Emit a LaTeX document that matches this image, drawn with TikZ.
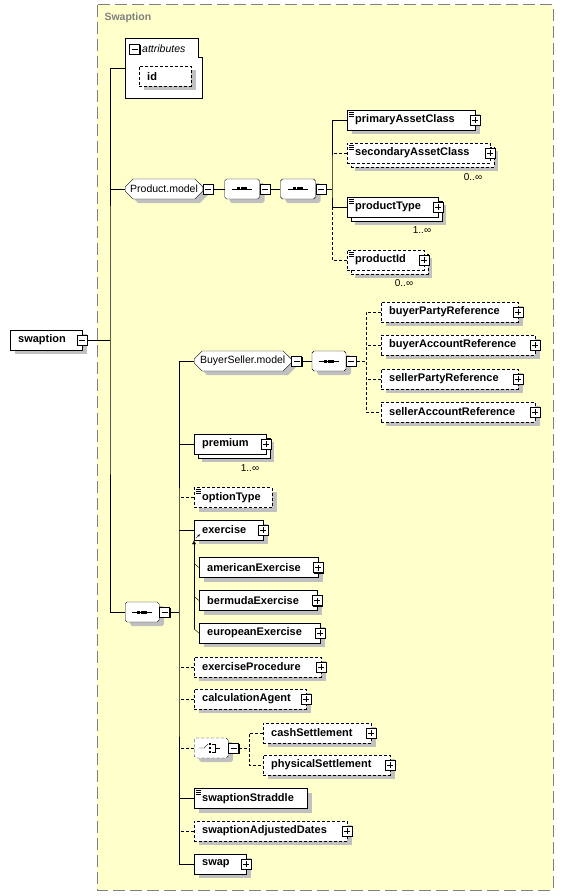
\documentclass[tikz,border=0pt]{standalone}
\usepackage{fontspec}
\setmainfont{Liberation Sans}
\usepackage{tikz}
\usetikzlibrary{positioning,shapes.misc,shadows,arrows.meta}
\definecolor{bgyellow}{RGB}{255,255,204}
\definecolor{shade}{RGB}{192,192,192}
\definecolor{framegray}{RGB}{128,128,128}
\tikzset{frame/.style={draw=framegray,fill=bgyellow,line width=1pt,dash pattern=on 12pt off 5pt}}
\tikzset{frametitle/.style={anchor=west,text=framegray,font=\bfseries\fontsize{10.5}{12}\selectfont}}
\tikzset{opt/.style={dash pattern=on 3pt off 2pt}}
\tikzset{shd/.style={drop shadow={shadow xshift=5pt,shadow yshift=-4pt,fill=shade,opacity=1}}}
\tikzset{multi/.style={drop shadow={shadow xshift=8pt,shadow yshift=-8pt,fill=shade,opacity=1},copy shadow={shadow xshift=4pt,shadow yshift=-4pt}}}
\tikzset{elem/.style={draw,fill=white,anchor=west,minimum height=20pt,inner xsep=8pt,inner ysep=0pt,align=left,font=\bfseries\fontsize{11}{13}\selectfont}}
\tikzset{modelgroup/.style={chamfered rectangle,chamfered rectangle xsep=4pt,chamfered rectangle ysep=4pt,draw,fill=white,anchor=west,minimum height=20pt,inner sep=1pt,font=\fontsize{10.5}{12}\selectfont,shd}}
\tikzset{occurs/.style={font=\fontsize{10}{12}\selectfont}}
\tikzset{signbox/.style={draw,fill=white,minimum size=10pt,inner sep=0pt,drop shadow={shadow xshift=1pt,shadow yshift=-1pt,fill=black,opacity=1}}}
\tikzset{minusbox/.style={signbox,path picture={\draw ([xshift=-3pt]path picture bounding box.center) -- ([xshift=3pt]path picture bounding box.center);}}}
\tikzset{plusbox/.style={signbox,path picture={\draw ([xshift=-3pt]path picture bounding box.center) -- ([xshift=3pt]path picture bounding box.center) ([yshift=-3pt]path picture bounding box.center) -- ([yshift=3pt]path picture bounding box.center);}}}
\tikzset{doc/.style={path picture={
	\foreach \d in {2,4,6}
		\draw[solid,line width=0.6pt] ([shift={(2pt,-\d pt)}]path picture bounding box.north west) -- ++(5pt,0);}}}
\tikzset{seqicon/.style={path picture={
	\draw[solid,line width=0.8pt] ([xshift=-10pt]path picture bounding box.center) -- ([xshift=10pt]path picture bounding box.center);
	\foreach \d in {-3.6,0,3.6}
		\fill[black] ([xshift=\d pt]path picture bounding box.center) +(-1.5pt,-1.5pt) rectangle +(1.5pt,1.5pt);}}}
\tikzset{choiceicon/.style={path picture={
	\begin{scope}[shift={(path picture bounding box.center)},x=1pt,y=1pt]
	\draw[solid] (-12,0) -- (-7,0) -- (-3,4);
	\foreach \d in {-4,0,4}
		\fill[black] (-1,\d) +(-1.2,-1.2) rectangle +(1.2,1.2);
	\draw[solid] (1,4) -- (4,4) -- (4,-4) -- (1,-4) (4,0) -- (9,0);
	\end{scope}}}}

\begin{document}
\begin{tikzpicture}[x=1pt,y=-1pt]
	\useasboundingbox (0,0) rectangle (563,896);

	%% Swaption frame
	\draw[frame] (97,5) rectangle (553,890);
	\node[frametitle] (ttl) at (101,18) {Swaption};

	%% root
	\node[elem,shd,text width=56pt] (sw) at (10,340) {swaption};
	\node[minusbox] (swmin) at (sw.east) {};

	%% attributes
	\draw[fill=white] (125,38) -- (198,38) -- (198,57) -- (202,57) -- (202,98) -- (125,98) -- cycle;
	\coordinate (attr) at (125,68);
	\node[minusbox] (attrmin) at (134.5,49) {};
	\node[anchor=west,inner sep=0pt,font=\itshape\fontsize{10.5}{12}\selectfont] (attrlbl) at (142,49) {attributes};
	\node[elem,shd,opt,text width=36pt] (id) at (139,76.5) {id};

	%% Product.model
	\node[modelgroup,minimum width=77pt] (pm) at (125,189) {Product.model};
	\node[minusbox,right=0pt of pm] (pmmin) {};
	\node[modelgroup,seqicon,minimum width=35pt,right=11pt of pmmin] (sq1) {};
	\node[minusbox,right=0pt of sq1] (sq1min) {};
	\node[modelgroup,seqicon,minimum width=35pt,right=10pt of sq1min] (sq2) {};
	\node[minusbox,right=0pt of sq2] (sq2min) {};

	\node[elem,shd,doc,text width=112pt] (pac) at (347,120) {primaryAssetClass};
	\node[plusbox] (pacp) at (pac.east) {};
	\node[elem,multi,opt,doc,text width=127pt] (sac) at (347,153) {secondaryAssetClass};
	\node[plusbox] (sacp) at (sac.east) {};
	\node[occurs] (sacn) at (473,177) {0..∞};
	\node[elem,multi,doc,text width=75pt] (ptype) at (347,207) {productType};
	\node[plusbox] (ptypep) at (ptype.east) {};
	\node[occurs] (ptypen) at (422,230) {1..∞};
	\node[elem,multi,opt,doc,text width=61pt] (pid) at (347,260) {productId};
	\node[plusbox] (pidp) at (pid.east) {};
	\node[occurs] (pidn) at (404,283) {0..∞};

	\coordinate (pt) at (332,189);
	\draw (sq2min) -- (pt);
	\draw (pac.west) -| (pt) |- (ptype.west);
	\draw[opt] (sac.west) -- (sac.west -| pt);
	\draw[opt] (ptype.west -| pt) |- (pid.west);
	\draw (pmmin) -- (sq1);
	\draw (sq1min) -- (sq2);

	%% main sequence
	\node[modelgroup,seqicon,minimum width=34pt] (seqm) at (125,612) {};
	\node[minusbox,right=0pt of seqm] (seqmmin) {};

	\coordinate (rt) at (110,340);
	\draw (swmin) -- (rt);
	\draw (attr) -| (rt) |- (seqm.west);
	\draw (pm.west) -- (pm.west -| rt);

	%% BuyerSeller.model
	\node[modelgroup,minimum width=97pt] (bsm) at (194,361) {BuyerSeller.model};
	\node[minusbox,right=0pt of bsm] (bsmmin) {};
	\node[modelgroup,seqicon,minimum width=34pt,right=10pt of bsmmin] (bsq) {};
	\node[minusbox,right=0pt of bsq] (bsqmin) {};
	\draw (bsmmin) -- (bsq);

	\node[elem,shd,opt,text width=121pt] (bpr) at (381,312) {buyerPartyReference};
	\node[plusbox] (bprp) at (bpr.east) {};
	\node[elem,shd,opt,text width=138pt] (bar) at (381,345) {buyerAccountReference};
	\node[plusbox] (barp) at (bar.east) {};
	\node[elem,shd,opt,text width=121pt] (spr) at (381,379) {sellerPartyReference};
	\node[plusbox] (sprp) at (spr.east) {};
	\node[elem,shd,opt,text width=138pt] (sar) at (381,412) {sellerAccountReference};
	\node[plusbox] (sarp) at (sar.east) {};

	\coordinate (bt) at (366,361);
	\draw[opt] (bsqmin) -- (bt);
	\draw[opt] (bpr.west) -| (bt) |- (sar.west);
	\draw[opt] (bar.west) -- (bar.west -| bt);
	\draw[opt] (spr.west) -- (spr.west -| bt);

	%% sequence children
	\node[elem,multi,text width=56pt] (prem) at (194,444) {premium};
	\node[plusbox] (premp) at (prem.east) {};
	\node[occurs] (premn) at (250,468) {1..∞};
	\node[elem,shd,opt,doc,text width=62pt] (opty) at (194,497.5) {optionType};
	\node[elem,shd,text width=53pt] (exer) at (194,530) {exercise};
	\node[plusbox] (exerp) at (exer.east) {};
	\draw[-{Latex[length=2.5pt,width=2.5pt]}] ([shift={(2pt,2pt)}]exer.south west) -- ++(4pt,4pt);

	\node[elem,shd,text width=103pt] (amex) at (199,567.5) {americanExercise};
	\node[plusbox] (amexp) at (amex.east) {};
	\node[elem,shd,text width=102pt] (bmex) at (199,600.5) {bermudaExercise};
	\node[plusbox] (bmexp) at (bmex.east) {};
	\node[elem,shd,text width=105pt] (euex) at (199,633) {europeanExercise};
	\node[plusbox] (euexp) at (euex.east) {};

	\coordinate (subend) at (194,629);
	\draw[-{Latex[length=4pt,width=4pt]}] (subend) -- (exer.south west);
	\draw (amex.west) -- ++(-5,-4);
	\draw (bmex.west) -- ++(-5,-4);
	\draw (euex.west) -- ++(-5,-4);

	\node[elem,shd,opt,text width=111pt] (exproc) at (194,667) {exerciseProcedure};
	\node[plusbox] (exprocp) at (exproc.east) {};
	\node[elem,shd,opt,text width=96pt] (calc) at (194,699) {calculationAgent};
	\node[plusbox] (calcp) at (calc.east) {};

	%% choice
	\node[modelgroup,choiceicon,opt,minimum width=34pt] (ch) at (194,748) {};
	\node[minusbox,right=0pt of ch] (chmin) {};
	\node[elem,shd,opt,text width=92pt] (cash) at (263,733) {cashSettlement};
	\node[plusbox] (cashp) at (cash.east) {};
	\node[elem,shd,opt,text width=111pt] (phys) at (263,765) {physicalSettlement};
	\node[plusbox] (physp) at (phys.east) {};
	\coordinate (ct) at (249,748);
	\draw[opt] (chmin) -- (ct);
	\draw[opt] (cash.west) -| (ct) |- (phys.west);

	\node[elem,shd,doc,text width=97pt] (strad) at (194,798.5) {swaptionStraddle};
	\node[elem,shd,opt,text width=137pt] (sad) at (194,831) {swaptionAdjustedDates};
	\node[plusbox] (sadp) at (sad.east) {};
	\node[elem,shd,text width=36pt] (swap) at (194,864) {swap};
	\node[plusbox] (swapp) at (swap.east) {};

	%% sequence trunk
	\coordinate (st) at (179,612);
	\draw (seqmmin) -- (st);
	\draw (bsm.west) -| (st) |- (swap.west);
	\draw (prem.west) -- (prem.west -| st);
	\draw[opt] (opty.west) -- (opty.west -| st);
	\draw (exer.west) -- (exer.west -| st);
	\draw[opt] (exproc.west) -- (exproc.west -| st);
	\draw[opt] (calc.west) -- (calc.west -| st);
	\draw[opt] (ch.west) -- (ch.west -| st);
	\draw (strad.west) -- (strad.west -| st);
	\draw[opt] (sad.west) -- (sad.west -| st);

\end{tikzpicture}
\end{document}
